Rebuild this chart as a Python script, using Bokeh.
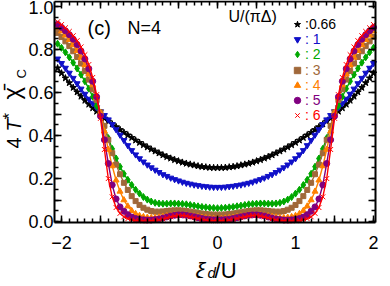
import numpy as np
from bokeh.plotting import figure
from bokeh.models import Range1d, LinearAxis, FixedTicker, Label, Legend, LegendItem
from bokeh.embed import file_html
from bokeh.resources import INLINE

# x grid for the right half (curves are symmetric about xi_d/U = 0)
x_half = [round(0.05 * i, 2) for i in range(43)]

u066 = [0.250, 0.250, 0.251, 0.253, 0.255, 0.258, 0.262, 0.266, 0.270, 0.275,
        0.281, 0.287, 0.294, 0.301, 0.309, 0.318, 0.327, 0.336, 0.346, 0.356,
        0.367, 0.378, 0.390, 0.402, 0.414, 0.427, 0.440, 0.453, 0.466, 0.480,
        0.496, 0.512, 0.528, 0.545, 0.563, 0.582, 0.602, 0.623, 0.645, 0.667,
        0.690, 0.714, 0.737]
u1 = [0.160, 0.160, 0.161, 0.163, 0.165, 0.168, 0.171, 0.175, 0.179, 0.184,
      0.190, 0.196, 0.203, 0.211, 0.219, 0.229, 0.240, 0.251, 0.264, 0.278,
      0.293, 0.311, 0.331, 0.354, 0.378, 0.403, 0.428, 0.452, 0.474, 0.494,
      0.512, 0.530, 0.549, 0.570, 0.593, 0.617, 0.642, 0.667, 0.691, 0.714,
      0.736, 0.757, 0.777]
u2 = [0.062, 0.063, 0.064, 0.066, 0.068, 0.071, 0.074, 0.077, 0.080, 0.082,
      0.083, 0.084, 0.084, 0.083, 0.083, 0.084, 0.087, 0.093, 0.102, 0.114,
      0.130, 0.148, 0.170, 0.194, 0.222, 0.255, 0.293, 0.338, 0.388, 0.440,
      0.492, 0.538, 0.580, 0.618, 0.652, 0.683, 0.712, 0.739, 0.764, 0.787,
      0.808, 0.827, 0.845]
u3 = [0.032, 0.032, 0.033, 0.035, 0.037, 0.040, 0.043, 0.046, 0.049, 0.051,
      0.052, 0.052, 0.051, 0.049, 0.047, 0.046, 0.046, 0.049, 0.055, 0.064,
      0.077, 0.095, 0.118, 0.147, 0.180, 0.220, 0.265, 0.318, 0.380, 0.445,
      0.508, 0.565, 0.615, 0.660, 0.700, 0.735, 0.765, 0.792, 0.816, 0.838,
      0.858, 0.877, 0.894]
u4 = [0.014, 0.014, 0.015, 0.017, 0.019, 0.022, 0.025, 0.028, 0.030, 0.032,
      0.032, 0.031, 0.029, 0.026, 0.023, 0.020, 0.018, 0.018, 0.019, 0.022,
      0.027, 0.036, 0.050, 0.071, 0.100, 0.140, 0.192, 0.258, 0.335, 0.420,
      0.505, 0.575, 0.635, 0.685, 0.727, 0.763, 0.794, 0.821, 0.845, 0.866,
      0.885, 0.902, 0.917]
u5 = [0.008, 0.008, 0.009, 0.011, 0.014, 0.018, 0.022, 0.026, 0.029, 0.031,
      0.031, 0.029, 0.026, 0.021, 0.016, 0.012, 0.009, 0.007, 0.007, 0.008,
      0.010, 0.014, 0.021, 0.032, 0.048, 0.068, 0.105, 0.170, 0.270, 0.380,
      0.490, 0.580, 0.652, 0.710, 0.756, 0.793, 0.823, 0.848, 0.869, 0.887,
      0.903, 0.917, 0.929]
u6 = [0.004, 0.004, 0.005, 0.007, 0.010, 0.014, 0.018, 0.022, 0.026, 0.028,
      0.028, 0.026, 0.022, 0.017, 0.012, 0.008, 0.005, 0.004, 0.003, 0.003,
      0.004, 0.005, 0.008, 0.013, 0.022, 0.038, 0.065, 0.115, 0.200, 0.335,
      0.480, 0.590, 0.670, 0.730, 0.776, 0.812, 0.841, 0.864, 0.884, 0.901,
      0.916, 0.929, 0.941]

labels = [":0.66", ": 1", ": 2", ": 3", ": 4", ": 5", ": 6"]
colors = ["#000000", "#1010c8", "#00a800", "#a0683a", "#ff8000", "#800080", "#ff0000"]
markers = ["star", "inverted_triangle", "diamond", "square", "triangle", "circle", "x"]
sizes = [7, 6, 7, 5, 6, 6, 7]
series = [u066, u1, u2, u3, u4, u5, u6]

x_ticks = [-2, -1.5, -1, -0.5, 0, 0.5, 1, 1.5, 2]
x_tick_labels = {-2: "\u22122", -1.5: "", -1: "\u22121", -0.5: "", 0: "0",
                 0.5: "", 1: "1", 1.5: "", 2: "2"}
y_ticks = [0.0, 0.1, 0.2, 0.3, 0.4, 0.5, 0.6, 0.7, 0.8, 0.9, 1.0]
y_tick_labels = {0.0: "0.0", 0.1: "", 0.2: "0.2", 0.3: "", 0.4: "0.4", 0.5: "",
                 0.6: "0.6", 0.7: "", 0.8: "0.8", 0.9: "", 1.0: "1.0"}

# plotting box (axes drawn at these data positions)
X_LO, X_HI = -2.09, 2.025
Y_LO, Y_HI = -0.004, 1.023

def mirror_x(h):
    return [-v for v in reversed(h)] + h[1:]

def mirror_y(h):
    return list(reversed(h)) + h[1:]

xs_all = mirror_x(x_half)
keep = [i for i, v in enumerate(xs_all) if X_LO <= v <= X_HI]
xs = [xs_all[i] for i in keep]

FONT = "Liberation Sans"

p = figure(width=382, height=278, output_backend="svg", toolbar_location=None,
           x_range=Range1d(-2.782, 2.115), y_range=Range1d(-0.265, 1.028),
           min_border_left=0, min_border_right=0, min_border_top=0,
           min_border_bottom=0)
p.xgrid.visible = False
p.ygrid.visible = False
p.outline_line_color = None
p.background_fill_color = "white"
p.border_fill_color = "white"

x_minor = [round(-2.0 + 0.1 * i, 2) for i in range(41)]
y_minor = [round(0.05 * i, 2) for i in range(21)]

def style_axis(ax):
    ax.axis_line_width = 2
    ax.axis_line_color = "black"
    ax.major_tick_in = 7
    ax.major_tick_out = 0
    ax.minor_tick_in = 4
    ax.minor_tick_out = 0
    ax.major_tick_line_width = 1.5
    ax.minor_tick_line_width = 1.5
    ax.major_tick_line_color = "black"
    ax.minor_tick_line_color = "black"
    ax.major_label_text_font = FONT
    ax.major_label_text_font_size = "18px"
    ax.major_label_text_color = "black"

bx = p.xaxis[0]
bx.ticker = FixedTicker(ticks=x_ticks, minor_ticks=x_minor)
bx.major_label_overrides = x_tick_labels
bx.major_label_standoff = 14
bx.fixed_location = Y_LO
bx.bounds = (X_LO, X_HI)
style_axis(bx)

ly = p.yaxis[0]
ly.ticker = FixedTicker(ticks=y_ticks, minor_ticks=y_minor)
ly.major_label_overrides = y_tick_labels
ly.major_label_standoff = 1
ly.fixed_location = X_LO
ly.bounds = (Y_LO, Y_HI)
style_axis(ly)

tx = LinearAxis(ticker=FixedTicker(ticks=x_ticks, minor_ticks=x_minor),
                major_label_overrides={t: "" for t in x_ticks},
                major_label_standoff=0, fixed_location=Y_HI,
                bounds=(X_LO, X_HI))
style_axis(tx)
p.add_layout(tx, "above")
ry = LinearAxis(ticker=FixedTicker(ticks=y_ticks, minor_ticks=y_minor),
                major_label_overrides={t: "" for t in y_ticks},
                major_label_standoff=0, fixed_location=X_HI,
                bounds=(Y_LO, Y_HI))
style_axis(ry)
p.add_layout(ry, "right")

scatters = []
for ys, col, mk, sz in zip(series, colors, markers, sizes):
    yy_all = mirror_y(ys)
    yy = [yy_all[i] for i in keep]
    p.line(xs, yy, line_color=col, line_width=1.4)
    r = p.scatter(xs, yy, marker=mk, size=sz, fill_color=col, line_color=col,
                  line_width=1)
    scatters.append(r)

for i, (r, lab, col) in enumerate(zip(scatters, labels, colors)):
    lg = Legend(items=[LegendItem(label=lab, renderers=[r])],
                location=(289, round(245 - 15.17 * i)), border_line_alpha=0,
                background_fill_alpha=0, padding=0, margin=0, spacing=0,
                glyph_width=16, glyph_height=18, label_height=18,
                label_standoff=0, label_text_font=FONT,
                label_text_font_size="14px", label_text_color=col,
                label_text_baseline="middle")
    p.add_layout(lg)

def lab(x, y, t, size, style="normal", angle=0.0, baseline="alphabetic"):
    p.add_layout(Label(x=x, y=y, text=t, text_font=FONT, text_font_size=size,
                       text_font_style=style, angle=angle, text_align="left",
                       text_baseline=baseline, text_color="black"))

lab(0.14, 0.953, "U/(\u03c0\u0394)", "16px", baseline="middle")
lab(-1.667, 0.902, "(c)", "20px", baseline="middle")
lab(-1.154, 0.902, "N=4", "18px", baseline="middle")

# x axis title: xi_d / U
lab(-0.282, -0.228, "\u03be", "22px", style="italic")
lab(-0.128, -0.237, "d", "15px", style="italic")
lab(-0.038, -0.228, "/U", "22px")

# y axis title: 4 T* chi-bar_C (rotated)
A = np.pi / 2
lab(-2.615, 0.340, "4", "20px", angle=A)
lab(-2.615, 0.419, "T", "20px", style="italic", angle=A)
lab(-2.667, 0.474, "*", "17px", angle=A)
lab(-2.641, 0.567, "\u03c7\u0304", "24px", angle=A)
lab(-2.513, 0.665, "C", "13px", angle=A)

open("out.html", "w").write(file_html(p, INLINE))
